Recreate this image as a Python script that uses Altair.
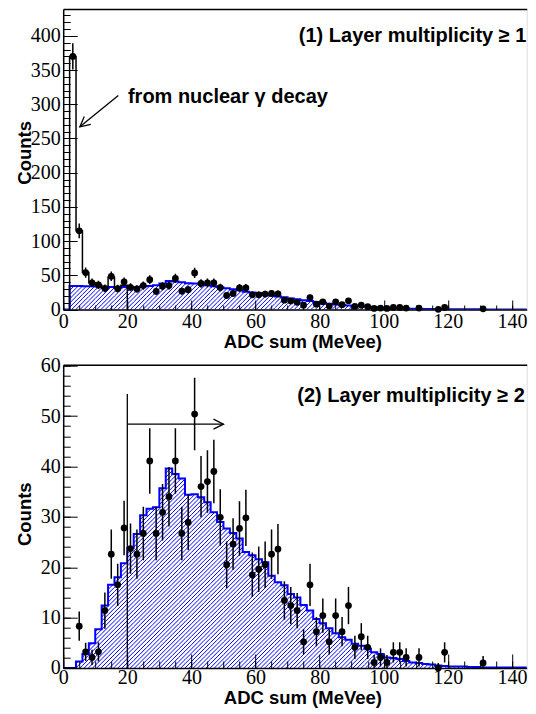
import math
import altair as alt
import pandas as pd

# ----------------------------- data -----------------------------
bin_edges = list(range(0, 150, 2))  # 0, 2, ..., 148 (74 bins of 2 MeVee)

# simulated spectra (blue hatched histograms), one value per 2-MeVee bin
mc_mult1 = [0, 34.5, 34.5, 34.0, 34.0, 33.5, 33.0, 33.0, 33.0, 33.0,
            32.0, 32.5, 34.0, 34.5, 35.5, 38.0, 41.5, 41.0, 40.0, 38.5,
            38.0, 37.0, 35.5, 34.0, 32.5, 31.0, 29.5, 28.0, 26.0, 25.0,
            24.0, 22.5, 20.5, 19.0, 18.0, 16.0, 15.0, 13.5, 12.3, 10.5,
            9.7, 8.5, 7.3, 6.5, 6.0, 5.1, 4.7, 4.0, 3.3, 3.0,
            2.3, 2.2, 1.9, 1.5, 1.2, 1.1, 0.9, 0.8, 0.6, 0.5,
            0.4, 0.3, 0.3, 0.3, 0.2, 0.1, 0.1, 0.1, 0.1, 0.1,
            0.1, 0.1, 0.1, 0.1]
mc_mult2 = [0, 0, 1.3, 2.8, 4.9, 7.7, 12.4, 16.5, 18.0, 20.8,
            23.8, 26.6, 30.3, 31.6, 31.9, 35.7, 39.6, 38.5, 37.6, 34.4,
            34.5, 33.9, 32.9, 30.9, 29.0, 27.7, 26.8, 25.7, 23.0, 22.4,
            21.6, 21.0, 18.3, 17.0, 16.4, 14.7, 14.0, 12.5, 11.4, 9.7,
            8.9, 7.9, 6.9, 6.1, 5.6, 4.8, 4.4, 3.8, 3.1, 2.8,
            2.1, 2.0, 1.8, 1.4, 1.1, 1.0, 0.8, 0.7, 0.5, 0.4,
            0.3, 0.3, 0.3, 0.2, 0.2, 0.1, 0.1, 0.1, 0.1, 0.1,
            0.1, 0.1, 0.1, 0.1]

# measured data points (panel 1)
pts1_x = [3, 5, 7, 9, 11, 13, 15, 17, 19, 21, 23, 25, 27, 29, 31, 33, 35, 37, 39, 41,
          43, 45, 47, 49, 51, 53, 55, 57, 59, 61, 63, 65, 67, 69, 71, 73, 75, 77, 79, 81,
          83, 85, 87, 89, 91, 93, 95, 97, 99, 101, 103, 105, 107, 111, 117, 119, 131]
pts1_y = [370, 115, 54, 39, 36, 31, 48.5, 30.5, 40.5, 32.5, 30, 35, 43.5, 26.5, 34, 35, 45.5, 27, 29, 53.5,
          38, 39, 39, 32, 20.5, 23.5, 31.5, 31.5, 21.5, 21.5, 22.5, 23.5, 23, 13.6, 12.5, 10.5, 6.3, 17.5, 7.8, 11.2,
          5.0, 11.2, 7.0, 12.7, 4.5, 6.2, 4.1, 1.5, 2.1, 1.5, 3.1, 3.1, 2.1, 2.1, 0.2, 3.1, 1.0]
pts1_err = [19.3, 10.8, 7.4, 6.3, 6.1, 5.7, 7.0, 5.6, 6.4, 5.8, 5.6, 6.0, 6.7, 5.2, 5.9, 6.0, 6.8, 5.3, 5.5, 7.4,
            6.2, 6.3, 6.3, 5.7, 4.6, 4.9, 5.7, 5.7, 4.7, 4.7, 4.8, 4.9, 4.9, 3.8, 3.7, 3.4, 2.7, 4.3, 2.9, 3.5,
            2.4, 3.5, 2.8, 3.7, 2.3, 2.7, 2.2, 1.6, 1.8, 1.6, 2.0, 2.0, 1.8, 1.8, 1.1, 2.0, 1.4]

# measured data points (panel 2)
pts2_x = [5, 7, 9, 11, 13, 15, 17, 19, 21, 23, 25, 27, 29, 31, 33, 35, 37, 39, 41, 43,
          45, 47, 49, 51, 53, 55, 57, 59, 61, 63, 65, 67, 69, 71, 73, 75, 77, 79, 81, 83,
          85, 87, 89, 91, 93, 95, 97, 99, 101, 103, 105, 107, 111, 117, 119, 131]
pts2_y = [8.3, 3.2, 2.1, 3.2, 11.4, 22.6, 16.5, 27.8, 23.7, 22.6, 26.7, 41.1, 26.7, 30.9, 34.0, 41.1, 26.7, 28.9, 50.4, 36.0,
          37.0, 39.0, 29.9, 20.5, 24.6, 27.7, 29.8, 18.5, 19.6, 20.5, 22.6, 23.6, 13.4, 12.4, 11.4, 5.2, 16.5, 7.2, 10.4, 5.2,
          10.4, 7.2, 12.4, 4.1, 6.2, 4.1, 1.1, 2.1, 1.1, 3.1, 3.1, 2.1, 2.1, 0.0, 3.1, 1.0]
pts2_err = [2.9, 1.8, 1.5, 1.9, 3.6, 4.9, 4.2, 5.4, 5.0, 4.9, 5.3, 6.5, 5.3, 5.6, 5.9, 6.5, 5.3, 5.5, 7.2, 6.1,
            6.2, 6.3, 5.6, 4.6, 5.1, 5.4, 5.6, 4.4, 4.5, 4.6, 4.9, 5.0, 3.8, 3.7, 3.5, 2.5, 4.2, 2.9, 3.4, 2.5,
            3.4, 2.9, 3.7, 2.3, 2.7, 2.3, 1.5, 1.8, 1.5, 2.0, 2.0, 1.8, 1.8, 1.0, 2.0, 1.4]

# low-energy peak drawn as a black step histogram (panel 1)
gamma_edges = [2, 4, 6, 8, 10, 12, 14, 16, 18, 20]
gamma_counts = [370, 115, 54, 39, 36, 31, 47, 31, 35.5]

# axis tick values
x_major = [0, 20, 40, 60, 80, 100, 120, 140]
x_minor = list(range(0, 145, 5))
y1_major = [0, 50, 100, 150, 200, 250, 300, 350, 400]
y1_minor = list(range(0, 440, 10))
y2_major = [0, 10, 20, 30, 40, 50, 60]
y2_minor = list(range(0, 61, 2))

# texts
x_title = "ADC sum (MeVee)"
y_title = "Counts"
label1 = "(1) Layer multiplicity \u2265 1"
label2 = "(2) Layer multiplicity \u2265 2"
note = "from nuclear \u03b3 decay"

# annotation anchors (data units)
label1_at = (144.5, 399.6)
label2_at = (144.0, 54.0)
note_at = (20.2, 311.0)
note_arrow = (17.2, 313.0, 5.2, 267.0)
cut_x, cut_top = 20, 54.4
arrow_y, arrow_end = 48.4, 50

# ----------------------------- layout -----------------------------
SANS = "Liberation Sans"
SERIF = "Liberation Serif"
BLUE = "#0000ff"
W = 463.5
X_MAX = 144.6
H1, Y1_MAX = 300.5, 439.3
H2, Y2_MAX = 303.3, 60.2


def hatch_df(mc, pxu, pyu, period=4.2):
    """Diagonal hatch segments clipped to each histogram bin (ROOT fill style 3004)."""
    rows = []
    for i, h in enumerate(mc):
        if h <= 0:
            continue
        x0, x1, hh = bin_edges[i] * pxu, bin_edges[i + 1] * pxu, h * pyu
        for k in range(math.floor((x0 - hh) / period), math.ceil(x1 / period) + 1):
            c = k * period
            ya, yb = max(0.0, x0 - c), min(hh, x1 - c)
            if yb - ya > 1e-6:
                rows.append({"x": (c + ya) / pxu, "y": ya / pyu,
                             "x2": (c + yb) / pxu, "y2": yb / pyu})
    return pd.DataFrame(rows)


def tick_axis(orient, offset, values, size):
    return alt.Axis(orient=orient, offset=offset, values=values, labels=False, domain=False,
                    ticks=True, tickSize=size, tickColor="black", tickWidth=1, grid=False,
                    title=None, zindex=1)


def panel(mc, px, py, pe, ymax, height, ymaj, ymin, xtick_len, label, label_at,
          ytitle_y, xtitle_y, xlab_pad, extra):
    xs = alt.Scale(domain=[0, X_MAX], nice=False, zero=False)
    ys = alt.Scale(domain=[0, ymax], nice=False, zero=False)
    hist = pd.DataFrame({"x": bin_edges, "y": mc + [mc[-1]]})
    pts = pd.DataFrame({"x": px, "y": py,
                        "lo": [v - e for v, e in zip(py, pe)],
                        "hi": [v + e for v, e in zip(py, pe)]})
    hatch = hatch_df(mc, W / X_MAX, height / ymax)

    x_main = alt.Axis(values=x_major, format="d", ticks=False, tickSize=0, domain=True,
                      domainColor="black", domainWidth=1.5, labelFont=SERIF, labelFontSize=20,
                      labelColor="black", labelPadding=xlab_pad, labelFlush=False,
                      labelOverlap=False, grid=False, title=x_title, titleFont=SANS,
                      titleFontWeight="bold", titleFontSize=18.5, titleColor="black",
                      titleX=239.2, titleY=xtitle_y, titleAlign="center",
                      titleBaseline="middle", zindex=1)
    y_main = alt.Axis(values=ymaj, format="d", ticks=False, tickSize=0, domain=True,
                      domainColor="black", domainWidth=1.5, labelFont=SERIF, labelFontSize=20,
                      labelColor="black", labelPadding=3, labelFlush=False, labelOverlap=False,
                      grid=False, title=y_title, titleFont=SANS, titleFontWeight="bold",
                      titleFontSize=18.5, titleColor="black", titleAngle=270, titleX=-39,
                      titleY=ytitle_y, titleAlign="center", titleBaseline="middle", zindex=1)
    frame = alt.Axis(orient="top", labels=False, ticks=False, domain=True, domainColor="black",
                     domainWidth=1.5, grid=False, title=None, zindex=1)

    hatch_layer = alt.Chart(hatch).mark_rule(color=BLUE, strokeWidth=1, clip=True).encode(
        x=alt.X("x:Q", scale=xs, axis=x_main),
        y=alt.Y("y:Q", scale=ys, axis=y_main),
        x2="x2:Q", y2="y2:Q")
    line = alt.Chart(hist).mark_line(interpolate="step-after", color=BLUE, strokeWidth=2,
                                     clip=True).encode(
        x=alt.X("x:Q", scale=xs, axis=tick_axis("top", -height, x_major, xtick_len[0])),
        y=alt.Y("y:Q", scale=ys, axis=tick_axis("right", -W, ymaj, 14)))
    errs = alt.Chart(pts).mark_rule(color="black", strokeWidth=1.5, clip=True).encode(
        x=alt.X("x:Q", scale=xs, axis=tick_axis("top", -height, x_minor, xtick_len[1])),
        y=alt.Y("lo:Q", scale=ys, axis=tick_axis("right", -W, ymin, 7)),
        y2="hi:Q")
    dots = alt.Chart(pts).mark_circle(size=46, color="black", opacity=1).encode(
        x=alt.X("x:Q", scale=xs, axis=frame),
        y=alt.Y("y:Q", scale=ys, axis=None))
    lab = alt.Chart(pd.DataFrame({"x": [label_at[0]], "y": [label_at[1]], "t": [label]})).mark_text(
        align="right", baseline="middle", font=SANS, fontWeight="bold", fontSize=20,
        color="black").encode(
        x=alt.X("x:Q", scale=xs, axis=None), y=alt.Y("y:Q", scale=ys, axis=None), text="t:N")

    layers = [hatch_layer, line] + extra(xs, ys) + [errs, dots, lab]
    return alt.layer(*layers).resolve_axis(x="independent", y="independent").properties(
        width=W, height=height)


def extra_top(xs, ys):
    gx = [gamma_edges[0]] + gamma_edges[:-1] + [gamma_edges[-1], gamma_edges[-1]]
    gy = [0] + gamma_counts + [gamma_counts[-1], 0]
    gdf = pd.DataFrame({"x": gx, "y": gy, "o": list(range(len(gx)))})
    gline = alt.Chart(gdf).mark_line(interpolate="step-after", color="black",
                                     strokeWidth=1.5).encode(
        x=alt.X("x:Q", scale=xs, axis=None), y=alt.Y("y:Q", scale=ys, axis=None), order="o:Q")
    adf = pd.DataFrame({"x": [note_arrow[0]], "y": [note_arrow[1]],
                        "x2": [note_arrow[2]], "y2": [note_arrow[3]]})
    ashaft = alt.Chart(adf).mark_rule(color="black", strokeWidth=1.3).encode(
        x=alt.X("x:Q", scale=xs, axis=None), y=alt.Y("y:Q", scale=ys, axis=None),
        x2="x2:Q", y2="y2:Q")
    ahead = alt.Chart(adf).mark_point(shape="M-2,-1L0,0L-2,1", size=100, filled=False,
                                      color="black", strokeWidth=1.3, angle=140,
                                      opacity=1).encode(
        x=alt.X("x2:Q", scale=xs, axis=None), y=alt.Y("y2:Q", scale=ys, axis=None))
    ndf = pd.DataFrame({"x": [note_at[0]], "y": [note_at[1]], "t": [note]})
    ntext = alt.Chart(ndf).mark_text(align="left", baseline="middle", font=SANS,
                                     fontWeight="bold", fontSize=20, color="black").encode(
        x=alt.X("x:Q", scale=xs, axis=None), y=alt.Y("y:Q", scale=ys, axis=None), text="t:N")
    return [gline, ashaft, ahead, ntext]


def extra_bottom(xs, ys):
    cdf = pd.DataFrame({"x": [cut_x], "y0": [0], "y1": [cut_top]})
    cut = alt.Chart(cdf).mark_rule(color="black", strokeWidth=1.3).encode(
        x=alt.X("x:Q", scale=xs, axis=None), y=alt.Y("y0:Q", scale=ys, axis=None), y2="y1:Q")
    hdf = pd.DataFrame({"x": [cut_x], "x2": [arrow_end], "y": [arrow_y]})
    shaft = alt.Chart(hdf).mark_rule(color="black", strokeWidth=1.3).encode(
        x=alt.X("x:Q", scale=xs, axis=None), x2="x2:Q", y=alt.Y("y:Q", scale=ys, axis=None))
    head = alt.Chart(hdf).mark_point(shape="M-2,-1L0,0L-2,1", size=100, filled=False,
                                     color="black", strokeWidth=1.3, opacity=1).encode(
        x=alt.X("x2:Q", scale=xs, axis=None), y=alt.Y("y:Q", scale=ys, axis=None))
    return [cut, shaft, head]


top = panel(mc_mult1, pts1_x, pts1_y, pts1_err, Y1_MAX, H1, y1_major, y1_minor, (9.5, 4.5),
            label1, label1_at, 143.3, 32.4, 2, extra_top)
bottom = panel(mc_mult2, pts2_x, pts2_y, pts2_err, Y2_MAX, H2, y2_major, y2_minor, (14, 7),
               label2, label2_at, 149, 29.8, 0, extra_bottom)

chart = alt.vconcat(top, bottom, spacing=54.7, bounds="flush").resolve_scale(
    x="independent", y="independent").properties(
    padding={"left": 6.2, "top": 0, "right": 0, "bottom": 0}
).configure_view(strokeWidth=0).configure(font=SANS)

chart.save("out.html", embed_options={"renderer": "svg", "actions": False})
